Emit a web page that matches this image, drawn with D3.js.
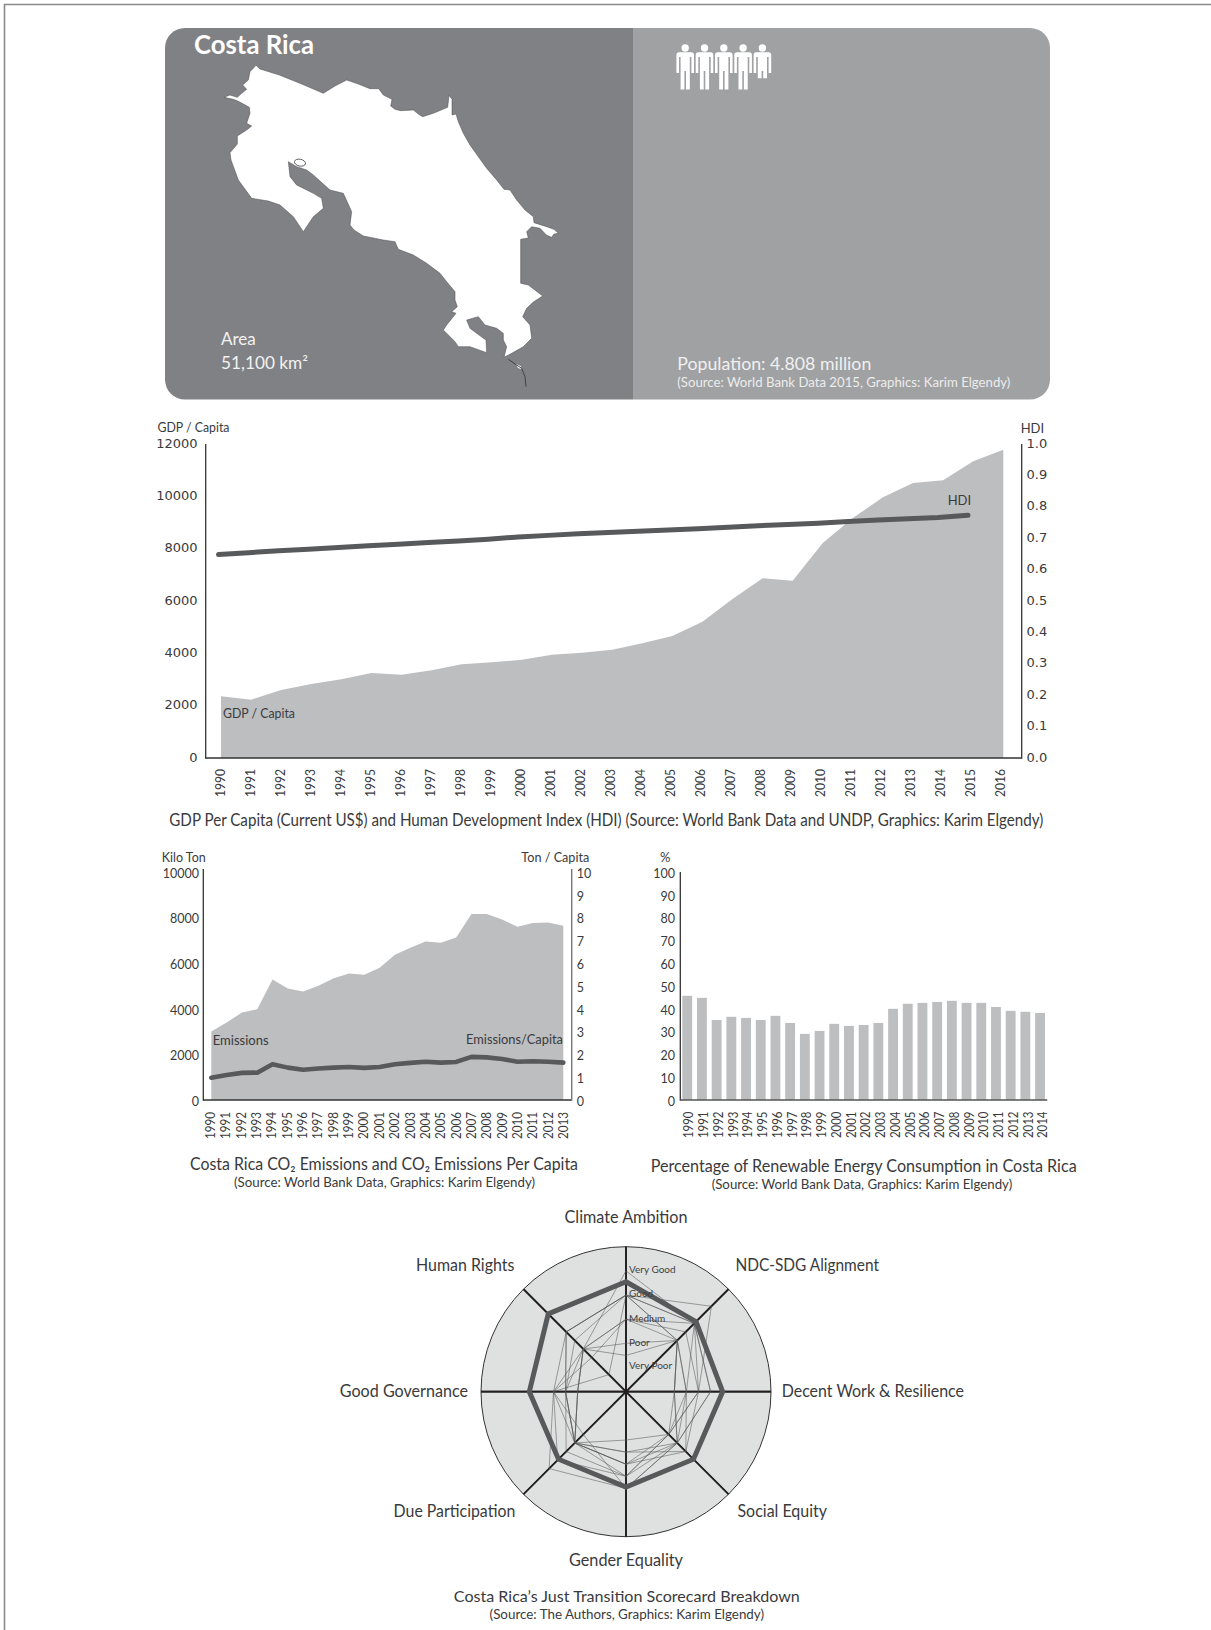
<!DOCTYPE html>
<html><head><meta charset="utf-8">
<script src="https://cdn.jsdelivr.net/npm/d3@7"></script>
<style>html,body{margin:0;padding:0;background:#fff;overflow:hidden}svg{display:block}text{font-family:Lato,"Noto Sans",sans-serif}</style>
</head><body><svg id="c" width="1211" height="1630"></svg>
<script>
// ---------- data ----------
const population = 4.808;
const gdpYears = d3.range(1990, 2017);
const gdpValues = [2357,2229,2599,2828,3006,3248,3185,3350,3580,3656,3758,3949,4025,4140,4382,4662,5210,6076,6866,6777,8217,9172,9962,10510,10611,11338,11783];
const hdiYears = d3.range(1990, 2016);
const hdiValues = [.648,.654,.660,.665,.670,.676,.681,.686,.691,.697,.704,.709,.714,.718,.722,.726,.730,.735,.740,.744,.748,.753,.758,.762,.766,.773];
const co2Years = d3.range(1990, 2014);
const co2Values = [3000,3397,3836,3982,5285,4890,4758,5007,5344,5549,5490,5798,6369,6676,6955,6896,7130,8155,8155,7921,7599,7760,7789,7643];
const co2PerCapita = [.98,1.10,1.19,1.20,1.57,1.42,1.33,1.38,1.42,1.45,1.41,1.45,1.57,1.63,1.68,1.64,1.67,1.89,1.87,1.80,1.68,1.70,1.68,1.64];
const renewYears = d3.range(1990, 2015);
const renewValues = [45.7,44.8,35.1,36.5,36,35.1,36.9,33.8,29,30.3,33.4,32.5,32.9,33.8,40,42.2,42.6,43,43.5,42.6,42.6,40.8,39.1,38.7,38.2];
const radarAxes = ["Climate Ambition","NDC-SDG Alignment","Decent Work & Resilience","Social Equity","Gender Equality","Due Participation","Good Governance","Human Rights"];
const radarLevels = ["Very Poor","Poor","Medium","Good","Very Good"];
const costaRicaScores = [4.55,4.1,4,3.95,3.95,3.95,4,4.55];
const peerScores = [
 [4,5,3,3.5,3,3,2.5,3.5],
 [5,4,3.5,3,4,4.5,3,2.5],
 [3,3,2,3,2.5,3,2,2.5],
 [4,4,3,2.5,3,3,2.5,3.5],
 [2,3,2,2.5,2,3,2,2.5],
 [4,3,2.5,2.5,3.5,3.5,2.5,3],
 [1.5,3,2.5,3.5,2.5,3,2.5,2.5],
 [3,4,3.5,3,3.5,4,3,2],
 [4,4,2.5,3,3,3,3,1],
 [3,3.5,3,2.5,3.5,3,2,2.5],
 [4,3,2,3,4,2.5,3,3.5]
];
// Outline of the country, traced in a 1500x1260 map grid
const mapOutline = [[318,196],[330,207],[388,225],[455,252],[520,280],[555,258],[590,240],[625,252],[660,266],[686,266],[700,285],[726,298],[722,318],[735,328],[752,332],[790,330],[805,342],[818,350],[850,340],[893,322],[897,286],[906,298],[906,345],[918,342],[925,365],[940,400],[960,435],[985,470],[1010,505],[1040,540],[1062,568],[1080,570],[1100,600],[1125,630],[1150,650],[1152,668],[1190,680],[1212,688],[1225,700],[1212,702],[1205,712],[1190,706],[1170,685],[1145,680],[1130,695],[1135,714],[1112,718],[1112,850],[1135,855],[1178,888],[1150,906],[1130,925],[1118,950],[1140,975],[1145,1015],[1120,1040],[1085,1060],[1062,1072],[1070,1040],[1060,1020],[1060,1000],[1040,985],[1005,975],[985,950],[950,960],[960,985],[980,1000],[1008,1020],[1010,1058],[960,1040],[925,1040],[915,1025],[880,990],[890,975],[918,940],[905,935],[922,920],[915,900],[915,875],[890,845],[870,820],[830,790],[790,765],[745,748],[735,725],[700,720],[640,708],[612,690],[600,675],[605,635],[580,580],[540,570],[490,525],[470,510],[440,500],[415,485],[420,530],[440,555],[490,580],[515,595],[520,625],[490,650],[460,695],[430,650],[390,615],[355,603],[305,595],[265,540],[243,480],[240,458],[262,432],[262,408],[290,390],[305,378],[290,370],[300,340],[298,322],[265,304],[250,298],[222,292],[240,285],[262,292],[275,280],[290,268],[278,255],[295,240],[300,215]];
const mapTail = [[1075,1078],[1100,1095],[1115,1105],[1125,1130],[1128,1160]];
const mapIslet = [[1098,1092],[1112,1098],[1115,1108],[1104,1104]];

// ---------- helpers ----------
const svg = d3.select("#c");
const INK = "#3a3a3c", AREA = "#bdbec0", DARK = "#58595b", AXIS = "#333";
function txt(s, x, y, size, o = {}) {
  const t = svg.append("text").attr("x", x).attr("y", y).attr("font-size", size)
    .attr("fill", o.fill || INK).attr("text-anchor", o.anchor || "start").text(s);
  if (o.weight) t.attr("font-weight", o.weight);
  if (o.family) t.style("font-family", o.family);
  if (o.w) t.attr("textLength", o.w).attr("lengthAdjust", "spacingAndGlyphs");
  return t;
}
function yearAxis(scale, y, size, w) {
  const ax = d3.axisBottom(scale).tickSize(0).tickPadding(0).tickFormat(d3.format("d"));
  const g = svg.append("g").attr("transform", `translate(0,${y})`).call(ax);
  g.select(".domain").remove();
  g.selectAll("text").attr("transform", "rotate(-90)").attr("text-anchor", "end")
    .attr("x", 0).attr("y", 0).attr("dy", "0.36em").attr("font-size", size).attr("fill", INK)
    .attr("textLength", w).attr("lengthAdjust", "spacingAndGlyphs")
    .style("font-family", "Lato");
  return g;
}
function valueAxis(gen, x, size, fam, anchorX, anchor) {
  const g = svg.append("g").attr("transform", `translate(${x},0)`).call(gen.tickSize(0));
  g.select(".domain").remove();
  g.selectAll("text").attr("x", anchorX - x).attr("text-anchor", anchor).attr("font-size", size)
    .attr("fill", INK).style("font-family", fam);
  return g;
}
function axisLine(x1, y1, x2, y2, col, w) {
  svg.append("line").attr("x1", x1).attr("y1", y1).attr("x2", x2).attr("y2", y2).attr("stroke", col || AXIS).attr("stroke-width", w || 1.3);
}

// ---------- page frame ----------
svg.append("path").attr("d", "M4.5,1630V4.5H1211").attr("fill", "none").attr("stroke", "#8a8a8c").attr("stroke-width", 1.6);

// ---------- header panel ----------
const P = {l:165, r:1050, t:28, b:399.5, s:633, rad:20};
svg.append("path").attr("fill", "#808184").attr("d", `M${P.s},${P.t}H${P.l+P.rad}A${P.rad},${P.rad} 0 0 0 ${P.l},${P.t+P.rad}V${P.b-P.rad}A${P.rad},${P.rad} 0 0 0 ${P.l+P.rad},${P.b}H${P.s}Z`);
svg.append("path").attr("fill", "#a0a1a3").attr("d", `M${P.s},${P.t}H${P.r-P.rad}A${P.rad},${P.rad} 0 0 1 ${P.r},${P.t+P.rad}V${P.b-P.rad}A${P.rad},${P.rad} 0 0 1 ${P.r-P.rad},${P.b}H${P.s}Z`);

const mx = d3.scaleLinear().domain([0,1500]).range([150,650]);
const my = d3.scaleLinear().domain([0,1260]).range([0,420]);
const mapLine = d3.line().x(d => mx(d[0])).y(d => my(d[1])).curve(d3.curveLinearClosed);
svg.append("path").attr("d", mapLine(mapOutline)).attr("fill", "#fff").attr("stroke", "#4a4a4c").attr("stroke-width", .5);
svg.append("path").attr("d", mapLine(mapIslet)).attr("fill", "#fff");
svg.append("path").attr("d", d3.line().x(d => mx(d[0])).y(d => my(d[1]))(mapTail)).attr("fill", "none").attr("stroke", "#3a3a3c").attr("stroke-width", .9);
svg.append("ellipse").attr("cx", mx(450)).attr("cy", my(488)).attr("rx", 5.6).attr("ry", 3.4)
  .attr("transform", `rotate(12 ${mx(450)} ${my(488)})`).attr("fill", "#fff").attr("stroke", "#444").attr("stroke-width", .8);

txt("Costa Rica", 194, 54, 26, {fill:"#fff", weight:700, w:120});
txt("Area", 221, 345, 17, {fill:"#f2f2f2"});
txt("51,100 km²", 221, 369, 17, {fill:"#f2f2f2", w:87});
txt("Population: 4.808 million", 677.3, 370, 18, {fill:"#f0f0f0", w:194});
txt("(Source: World Bank Data 2015, Graphics: Karim Elgendy)", 677.3, 387, 13.5, {fill:"#ececec", w:333});

// people pictogram: one figure per million
const iconX = d3.scaleLinear().domain([0,1]).range([685.2,704.5]);
const iconTop = 45, iconH = 41;
const defs = svg.append("defs");
d3.range(Math.ceil(population)).forEach(i => {
  const frac = population - i;
  const cx = iconX(i);
  defs.append("clipPath").attr("id", "pc"+i).append("rect").attr("x", cx-12).attr("y", iconTop-2).attr("width", 24).attr("height", (frac < 1 ? iconH*frac : 50)+2);
  const g = svg.append("g").attr("clip-path", `url(#pc${i})`).attr("fill", "#fff");
  g.append("circle").attr("cx", cx).attr("cy", 48).attr("r", 3.7);
  g.append("path").attr("d", `M${cx-6},52.2H${cx+6}Q${cx+8.8},52.2 ${cx+8.8},55V73H${cx+6.2}V57H${cx+4.6}V70V89.5H${cx+.8}V71H${cx-.8}V89.5H${cx-4.6}V57H${cx-6.2}V73H${cx-8.8}V55Q${cx-8.8},52.2 ${cx-6},52.2Z`);
});

// ---------- GDP / HDI chart ----------
const g1 = {l:205.7, r:1021.7, t:444, b:758};
const gdpX = d3.scalePoint().domain(gdpYears).range([221,1003.3]);
const gdpY = d3.scaleLinear().domain([0,12000]).range([g1.b,g1.t]);
const hdiY = d3.scaleLinear().domain([0,1]).range([g1.b,g1.t]);
const hdiX = d3.scalePoint().domain(hdiYears).range([218.5,968]);
svg.append("path").attr("fill", AREA).attr("d", d3.area().x((d,i)=>gdpX(gdpYears[i])).y0(g1.b).y1(d=>gdpY(d))(gdpValues));
svg.append("path").attr("fill","none").attr("stroke",DARK).attr("stroke-width",5).attr("stroke-linecap","round")
  .attr("d", d3.line().x((d,i)=>hdiX(hdiYears[i])).y(d=>hdiY(d))(hdiValues));
axisLine(g1.l, g1.t, g1.l, g1.b+.7);
axisLine(g1.l, g1.b, g1.r, g1.b);
axisLine(g1.r, g1.t, g1.r, g1.b+.7);
valueAxis(d3.axisLeft(gdpY).tickValues(d3.range(0,12001,2000)).tickFormat(d3.format("d")), g1.l, 13, "'DejaVu Sans'", 197.5, "end").selectAll("text").attr("dy","0.24em");
valueAxis(d3.axisRight(hdiY).tickValues(d3.range(0,1.01,.1)).tickFormat(d3.format(".1f")), g1.r, 13, "'DejaVu Sans'", 1026.5, "start").selectAll("text").attr("dy","0.24em");
yearAxis(d3.scalePoint().domain(gdpYears).range([219.5,999.5]), 769, 13, 28);
txt("GDP / Capita", 157.5, 431.7, 13, {w:72});
txt("HDI", 1020.7, 433, 13);
txt("GDP / Capita", 223, 717.7, 13, {w:72});
txt("HDI", 947.7, 505, 13);
txt("GDP Per Capita (Current US$) and Human Development Index (HDI) (Source: World Bank Data and UNDP, Graphics: Karim Elgendy)", 169.3, 825.7, 16.5, {w:874});

// ---------- CO2 chart ----------
const g2 = {l:203.3, r:571.7, t:872, b:1100};
const co2X = d3.scalePoint().domain(co2Years).range([211.3,563.3]);
const co2Y = d3.scaleLinear().domain([0,10000]).range([g2.b,g2.t]);
const capY = d3.scaleLinear().domain([0,10]).range([g2.b,g2.t]);
svg.append("path").attr("fill",AREA).attr("d", d3.area().x((d,i)=>co2X(co2Years[i])).y0(g2.b).y1(d=>co2Y(d))(co2Values));
svg.append("path").attr("fill","none").attr("stroke",DARK).attr("stroke-width",4.6).attr("stroke-linecap","round").attr("stroke-linejoin","round")
  .attr("d", d3.line().x((d,i)=>co2X(co2Years[i])).y(d=>capY(d))(co2PerCapita));
axisLine(g2.l, g2.t-3, g2.l, g2.b+.7);
axisLine(g2.l, g2.b, g2.r, g2.b);
axisLine(g2.r, g2.t-3, g2.r, g2.b+.7, "#777", 1.4);
valueAxis(d3.axisLeft(co2Y).tickValues(d3.range(0,10001,2000)).tickFormat(d3.format("d")), g2.l, 12.5, "Lato", 199, "end").selectAll("text").attr("dy","0.42em");
valueAxis(d3.axisRight(capY).tickValues(d3.range(0,11)).tickFormat(d3.format("d")), g2.r, 12.5, "Lato", 576.7, "start").selectAll("text").attr("dy","0.42em");
yearAxis(d3.scalePoint().domain(co2Years).range([210,563]), 1112, 12.5, 27);
txt("Kilo Ton", 161.7, 861.7, 13, {w:44});
txt("Ton / Capita", 521.3, 861.7, 13, {w:68});
txt("Emissions", 212.7, 1045, 13, {w:56});
txt("Emissions/Capita", 466, 1044, 13, {w:97});
txt("Costa Rica CO₂ Emissions and CO₂ Emissions Per Capita", 190, 1170, 16.5, {w:388});
txt("(Source: World Bank Data, Graphics: Karim Elgendy)", 234, 1186.7, 12.5, {w:301});

// ---------- renewable chart ----------
const g3 = {l:680.3, r:1047.3, t:872, b:1100};
const barY = d3.scaleLinear().domain([0,100]).range([g3.b,g3.t]);
const barX = d3.scaleBand().domain(renewYears).range([682.3,1045]).paddingInner(.33).paddingOuter(0);
svg.append("g").selectAll("rect").data(renewValues).join("rect")
  .attr("x",(d,i)=>barX(renewYears[i])).attr("width",barX.bandwidth())
  .attr("y",d=>barY(d)).attr("height",d=>g3.b-barY(d)).attr("fill",AREA);
axisLine(g3.l, g3.t, g3.l, g3.b+.7);
axisLine(g3.l, g3.b, g3.r, g3.b, "#555");
valueAxis(d3.axisLeft(barY).tickValues(d3.range(0,101,10)).tickFormat(d3.format("d")), g3.l, 12.5, "Lato", 675, "end").selectAll("text").attr("dy","0.42em");
yearAxis(d3.scalePoint().domain(renewYears).range([688.3,1042.3]), 1111.5, 12.5, 26.5);
txt("%", 660, 861.7, 13);
txt("Percentage of Renewable Energy Consumption in Costa Rica", 650.7, 1171.7, 16.5, {w:426});
txt("(Source: World Bank Data, Graphics: Karim Elgendy)", 711.7, 1189, 12.5, {w:300.5});

// ---------- radar ----------
const R = {cx:626, cy:1391.7, r:145};
const rScale = d3.scaleLinear().domain([0,6]).range([0,R.r]);
const angle = i => i*Math.PI/4;
const radial = d3.lineRadial().angle((d,i)=>angle(i)).radius(d=>rScale(d)).curve(d3.curveLinearClosed);
const rg = svg.append("g").attr("transform",`translate(${R.cx},${R.cy})`);
rg.append("circle").attr("r",R.r).attr("fill","#dfe1e1").attr("stroke","#333").attr("stroke-width",1);
rg.selectAll(".spoke").data(radarAxes).join("line").attr("class","spoke")
  .attr("x1",(d,i)=>Math.sin(angle(i))*R.r).attr("y1",(d,i)=>-Math.cos(angle(i))*R.r)
  .attr("x2",(d,i)=>-Math.sin(angle(i))*R.r).attr("y2",(d,i)=>Math.cos(angle(i))*R.r)
  .attr("stroke","#231f20").attr("stroke-width",1.7);
rg.selectAll(".peer").data(peerScores).join("path").attr("class","peer").attr("d",radial)
  .attr("fill","none").attr("stroke","#555").attr("stroke-opacity",.6).attr("stroke-width",.9);
rg.append("path").attr("d",radial(costaRicaScores)).attr("fill","none").attr("stroke",DARK).attr("stroke-width",5).attr("stroke-linejoin","miter");
rg.selectAll(".lvl").data(radarLevels).join("text").attr("class","lvl").text(d=>d)
  .attr("x",3).attr("y",(d,i)=>-rScale(i+1)+[1,3,3,2,2.5][i]).attr("font-size",10).attr("fill","#3f3f41");
const labelBoxes = [[564.5,123,1223.4],[735.4,143.6,1270.7],[781.7,182.3,1396.7],[737.5,89.5,1517.4],[569,114,1565.7],[393.6,121.7,1517.4],[339.8,128.2,1396.7],[416,98.4,1270.7]];
radarAxes.forEach((s,i)=>txt(s,labelBoxes[i][0],labelBoxes[i][2],16.5,{w:labelBoxes[i][1]}));
txt("Costa Rica’s Just Transition Scorecard Breakdown",453.8,1602,16,{w:346});
txt("(Source: The Authors, Graphics: Karim Elgendy)",489.6,1619,12.5,{w:274.4});
</script></body></html>
